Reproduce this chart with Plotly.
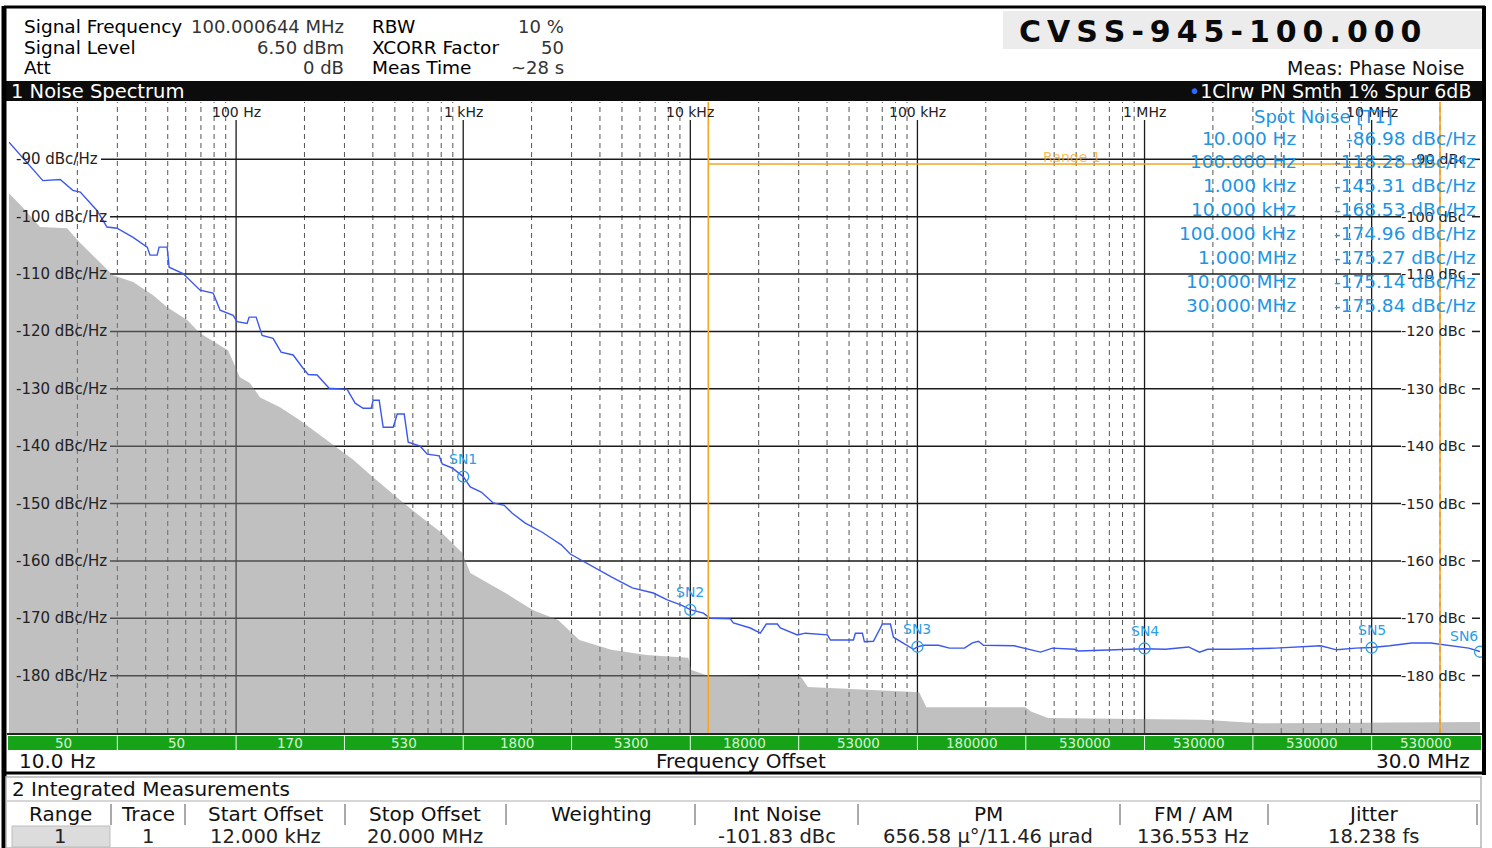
import math
import plotly.graph_objects as go

# ---------------- data ----------------
trace_freq_hz = [10, 11.76, 14.1, 16.8, 19.1, 20.6, 24.4, 27.0, 29.9, 35.2, 40.6, 41.8, 44.9, 45.8, 49.7,
                 50.7, 58.4, 69.4, 79.2, 85.0, 97.0, 101, 111.8, 114.1, 122.5, 130.2, 145.5, 157.8, 178.3,
                 195.3, 207.6, 227.4, 256.8, 308.3, 334.4, 362.6, 393.3, 401.3, 426.6, 444.2, 491.7, 512.1,
                 549.8, 572.5, 646.6, 694.1, 784.1, 808.3, 894.4, 1000, 1074, 1200, 1356, 1516, 1644, 1876,
                 2034, 2228, 2517, 2702, 2961, 3344, 3854, 4487, 4966, 5553, 6871, 7918, 9130, 10000, 11410,
                 12250, 15010, 15470, 18380, 20340, 21610, 24170, 24920, 29610, 32110, 40140, 41380, 52250,
                 53320, 57240, 58420, 64010, 70140, 76050, 78400, 90370, 96030, 100000, 106270, 123760,
                 138360, 161060, 174690, 185640, 195330, 267500, 311500, 348300, 393300, 491700, 512100,
                 1.0e6, 1.2376e6, 1.562e6, 1.747e6, 1.895e6, 2.393e6, 3.776e6, 5.962e6, 7.013e6, 8.502e6,
                 1.0e7, 1.2e7, 1.5e7, 1.82e7, 2.12e7, 2.674e7, 3.0e7]
trace_dbc_hz = [-87.0, -90.2, -93.7, -93.5, -95.4, -95.7, -98.9, -101.8, -102.0, -103.6, -105.3, -106.7,
                -106.7, -105.3, -105.3, -108.8, -109.9, -112.8, -113.3, -116.3, -117.2, -118.3, -118.6,
                -117.5, -117.5, -120.7, -121.2, -123.6, -124.1, -126.2, -127.5, -127.6, -129.9, -130.1,
                -132.5, -133.4, -133.4, -132.0, -132.0, -136.7, -136.7, -134.4, -134.4, -139.3, -140.0,
                -141.4, -141.7, -143.1, -143.8, -145.3, -147.1, -148.0, -149.9, -150.3, -151.7, -153.4,
                -154.1, -155.0, -156.4, -157.2, -158.8, -160.0, -161.3, -162.8, -163.7, -164.7, -165.6,
                -166.8, -167.7, -168.5, -169.1, -170.0, -170.1, -170.8, -171.7, -172.6, -171.0, -171.0,
                -171.7, -172.9, -172.6, -172.9, -173.8, -173.8, -172.6, -172.6, -174.1, -174.0, -171.0,
                -171.0, -173.3, -174.7, -175.4, -175.0, -174.7, -174.7, -175.2, -175.2, -174.3, -174.0,
                -174.7, -174.8, -175.4, -175.9, -175.2, -175.4, -175.7, -175.3, -175.4, -175.0, -175.9,
                -175.4, -175.4, -175.2, -174.8, -175.5, -175.2, -175.1, -174.8, -174.3, -174.3, -174.7,
                -175.2, -175.8]

floor_freq_hz = [10, 11.5, 13.7, 18.0, 20.6, 25.2, 28.7, 35.2, 43.1, 49.7, 60.9, 69.4, 82.2, 92.3, 103.9,
                 115, 127.5, 156, 191, 251, 288, 329, 401, 464, 527, 654, 808, 991, 1074, 1534, 2034, 2617,
                 3245, 4487, 6401, 9800, 10100, 11730, 30660, 32950, 101700, 109500, 299000, 317800,
                 376000, 1.807e6, 3.205e6, 3.0e7]
floor_dbc_hz = [-95.9, -98.4, -101.8, -102.0, -104.6, -108.1, -110.2, -111.4, -113.7, -115.8, -118.0,
                -120.3, -122.1, -123.3, -128.0, -129.0, -131.5, -133.2, -135.5, -139.0, -140.7, -142.4,
                -145.4, -147.6, -149.4, -152.4, -155.2, -158.6, -162.1, -165.6, -168.6, -170.3, -173.8,
                -175.5, -176.4, -176.9, -179.0, -179.9, -180.2, -182.0, -182.9, -185.5, -185.5, -186.3,
                -187.4, -187.7, -188.3, -188.1]

spot_freq_hz = [10, 100, 1e3, 1e4, 1e5, 1e6, 1e7, 3e7]
spot_freq_labels = ["10.000 Hz", "100.000 Hz", "1.000 kHz", "10.000 kHz", "100.000 kHz",
                    "1.000 MHz", "10.000 MHz", "30.000 MHz"]
spot_values = [-86.98, -118.28, -145.31, -168.53, -174.96, -175.27, -175.14, -175.84]
sn_labels = ["SN1", "SN2", "SN3", "SN4", "SN5", "SN6"]   # spot points 3..8

range_start_hz = 12e3
range_stop_hz = 20e6

xcorr_edges_hz = [10, 30, 100, 300, 1e3, 3e3, 1e4, 3e4, 1e5, 3e5, 1e6, 3e6, 1e7, 3e7]
xcorr_labels = ["50", "50", "170", "530", "1800", "5300", "18000", "53000", "180000",
                "530000", "530000", "530000", "530000"]

y_levels = [-90, -100, -110, -120, -130, -140, -150, -160, -170, -180]
decade_hz = [100, 1e3, 1e4, 1e5, 1e6, 1e7]
decade_labels = ["100 Hz", "1 kHz", "10 kHz", "100 kHz", "1 MHz", "10 MHz"]

hdr_labels_1 = ["Signal Frequency", "Signal Level", "Att"]
hdr_values_1 = ["100.000644 MHz", "6.50 dBm", "0 dB"]
hdr_labels_2 = ["RBW", "XCORR Factor", "Meas Time"]
hdr_values_2 = ["10 %", "50", "~28 s"]

tbl_cols = ["Range", "Trace", "Start Offset", "Stop Offset", "Weighting", "Int Noise", "PM", "FM / AM", "Jitter"]
tbl_vals = ["1", "1", "12.000 kHz", "20.000 MHz", "", "-101.83 dBc", "656.58 µ°/11.46 µrad",
            "136.553 Hz", "18.238 fs"]

# ---------------- geometry helpers ----------------
W, H = 1492, 848
L, R, T, B = 9, 1480, 102, 733
XMIN, XMAX = 10, 3e7
YMIN, YMAX = -190, -80
FONT = "DejaVu Sans"


def px(x):
    return (x - L) / (R - L)


def py(y):
    return (B - y) / (B - T)


def fx(f):
    return (math.log10(f) - math.log10(XMIN)) / (math.log10(XMAX) - math.log10(XMIN))


def fy(v):
    return (v - YMIN) / (YMAX - YMIN)


shapes = []
annos = []


def line(x0, y0, x1, y1, color, width=1, dash=None, layer="above"):
    d = dict(type="line", xref="paper", yref="paper", x0=x0, y0=y0, x1=x1, y1=y1,
             line=dict(color=color, width=width), layer=layer)
    if dash:
        d["line"]["dash"] = dash
    shapes.append(d)


def rect(x0, y0, x1, y1, fill, lc=None, lw=0, layer="above"):
    shapes.append(dict(type="rect", xref="paper", yref="paper", x0=x0, y0=y0, x1=x1, y1=y1,
                       fillcolor=fill, line=dict(color=lc or fill, width=lw), layer=layer))


def text(x, y, s, size=16, color="#111", xanchor="left", yanchor="middle", family=FONT, weight=None, **kw):
    font = dict(family=family, size=size, color=color)
    if weight:
        font["weight"] = weight
    annos.append(dict(x=x, y=y, xref="paper", yref="paper", text=s, showarrow=False,
                      xanchor=xanchor, yanchor=yanchor, font=font, **kw))


# ---------------- traces ----------------
fig = go.Figure()

# measurement floor (gray area)
fig.add_trace(go.Scatter(
    x=floor_freq_hz + [XMAX, XMIN], y=floor_dbc_hz + [-200, -200],
    fill="toself", fillcolor="rgba(130,130,130,0.5)", mode="lines",
    line=dict(width=0, color="rgba(0,0,0,0)"), hoverinfo="skip", showlegend=False))

# phase noise trace
fig.add_trace(go.Scatter(
    x=trace_freq_hz, y=trace_dbc_hz, mode="lines",
    line=dict(color="#3a57f0", width=1.4), showlegend=False))

# spot noise markers
fig.add_trace(go.Scatter(
    x=spot_freq_hz[2:], y=spot_values[2:], mode="markers",
    marker=dict(symbol="circle-open", size=11, color="#2a9de8", line=dict(width=1.3)),
    showlegend=False, cliponaxis=False))

# ---------------- grid ----------------
for i, f in enumerate(decade_hz):
    line(fx(f), 0, fx(f), py(120), "#1a1a1a", 1.3, layer="below")
    text(fx(f), py(112), decade_labels[i], size=14, color="#222", xanchor="center")
for k in range(1, 7):
    for m in range(2, 10):
        f = m * 10 ** k
        line(fx(f), 0, fx(f), 1, "#555555", 1, dash="5px,4px", layer="below")
line(fx(2e7), 0, fx(2e7), 1, "#555555", 1, dash="5px,4px", layer="below")

for v in y_levels:
    left_end = 101 if v == -90 else 110
    line(px(left_end), fy(v), px(1401), fy(v), "#1a1a1a", 1.5, layer="below")
    line(px(1472), fy(v), 1, fy(v), "#1a1a1a", 1.5, layer="below")
    text(px(14), fy(v), f"{v} dBc/Hz", size=15, color="#222")
    text(px(1468), fy(v), f"{v} dBc", size=14.5, color="#222", xanchor="right")

# range 1 (orange)
line(fx(range_start_hz), 0, fx(range_start_hz), 1, "#f5a623", 1.6)
line(fx(range_stop_hz), 0, fx(range_stop_hz), 1, "#f5a623", 1.6)
line(fx(range_start_hz), py(164), fx(range_stop_hz), py(164), "#f5a623", 1.6)
text(px(1072), py(157), "Range 1", size=14, color="rgba(245,166,35,0.75)", xanchor="center")

# SN labels
for i, lab in enumerate(sn_labels):
    f = spot_freq_hz[i + 2]
    v = spot_values[i + 2]
    if i == len(sn_labels) - 1:
        text(fx(f), fy(v), lab, size=14, color="#2a9de8", xanchor="right", yanchor="bottom", yshift=6)
    else:
        text(fx(f), fy(v), lab, size=14, color="#2a9de8", xanchor="center", yanchor="bottom", yshift=8)

# spot noise table
text(px(1323), py(116), "Spot Noise [T1]", size=18, color="#2094e4", xanchor="center")
for i, (fl, sv) in enumerate(zip(spot_freq_labels, spot_values)):
    yy = 138 + i * 23.9
    text(px(1298), py(yy), fl, size=18.5, color="#2094e4", xanchor="right")
    text(px(1478), py(yy), f"{sv:.2f} dBc/Hz", size=18.5, color="#2094e4", xanchor="right")

# ---------------- frame & header ----------------
rect(px(3), py(81), px(1485), py(101), "#0c0c0c")
text(px(9), py(91), "1 Noise Spectrum", size=19.5, color="white")
text(px(1473), py(91), '<span style="color:#2f6bff">•</span>1Clrw PN Smth 1% Spur 6dB',
     size=19, color="white", xanchor="right")

# outer frame
line(px(4), py(7), px(1485), py(7), "black", 3)
line(px(4), py(6), px(4), py(848), "black", 5)
line(px(1484), py(6), px(1484), py(775), "black", 4)
line(px(4), py(773), px(1485), py(773), "black", 3)
line(px(7), py(734), px(1482), py(734), "#222", 2)

# title box
rect(px(1003), py(11), px(1482), py(49), "#ececec")
title_txt = "\u2009".join("CVSS-945-100.000")
text(px(1220), py(31), title_txt, size=30, color="#0a0a0a", xanchor="center", weight="bold")
text(px(1467), py(68), "Meas: Phase Noise", size=19, color="#111", xanchor="right")

# header info
for i in range(3):
    yy = 26 + i * 21
    text(px(22), py(yy), hdr_labels_1[i], size=18.5, color="#000")
    text(px(346), py(yy), hdr_values_1[i], size=18, color="#333", xanchor="right")
    text(px(370), py(yy), hdr_labels_2[i], size=18.5, color="#000")
    text(px(566), py(yy), hdr_values_2[i], size=18, color="#333", xanchor="right")

# xcorr green bar
rect(px(8), py(736), px(1481), py(750), "#17a317")
for i, lab in enumerate(xcorr_labels):
    f0, f1 = xcorr_edges_hz[i], xcorr_edges_hz[i + 1]
    xc = (fx(f0) + fx(f1)) / 2
    text(xc, py(743), lab, size=13.5, color="#d6f5d6", xanchor="center")
    if i > 0:
        line(fx(f0), py(736), fx(f0), py(750), "#e8ffe8", 1)

text(px(17), py(761), "10.0 Hz", size=20, color="#111")
text(px(741), py(761), "Frequency Offset", size=20, color="#111", xanchor="center")
text(px(1472), py(761), "30.0 MHz", size=20, color="#111", xanchor="right")

# ---------------- integrated measurements ----------------
rect(px(6), py(777), px(1481), py(848), "white", lc="#b5b5b5", lw=1.5)
text(px(10), py(789), "2 Integrated Measurements", size=20, color="#111")
line(px(7), py(801), px(1480), py(801), "#c8c8c8", 1.5)
rect(px(12), py(826), px(110), py(847), "#dcdcdc", lc="#bdbdbd", lw=1)
tbl_centers = [60, 148, 265, 425, 601, 777, 988, 1193, 1373]
tbl_seps = [111, 185, 345, 506, 695, 858, 1120, 1268, 1477]
for c, h, v in zip(tbl_centers, tbl_cols, tbl_vals):
    text(px(c), py(814), h, size=20, color="#111", xanchor="center")
    if v:
        text(px(c), py(836), v, size=19.5, color="#222", xanchor="center")
for s in tbl_seps:
    line(px(s), py(804), px(s), py(825), "#555", 1)

# ---------------- layout ----------------
fig.update_layout(
    width=W, height=H,
    margin=dict(l=L, r=W - R, t=T, b=H - B, pad=0),
    paper_bgcolor="white", plot_bgcolor="white",
    showlegend=False,
    xaxis=dict(type="log", range=[math.log10(XMIN), math.log10(XMAX)], showgrid=False,
               showticklabels=False, zeroline=False, showline=False, ticks=""),
    yaxis=dict(range=[YMIN, YMAX], showgrid=False, showticklabels=False, zeroline=False,
               showline=False, ticks=""),
    shapes=shapes, annotations=annos,
)

fig.write_html("out.html", config={"displayModeBar": False},
               post_script="document.body.style.margin='0';document.body.style.overflow='hidden';")
